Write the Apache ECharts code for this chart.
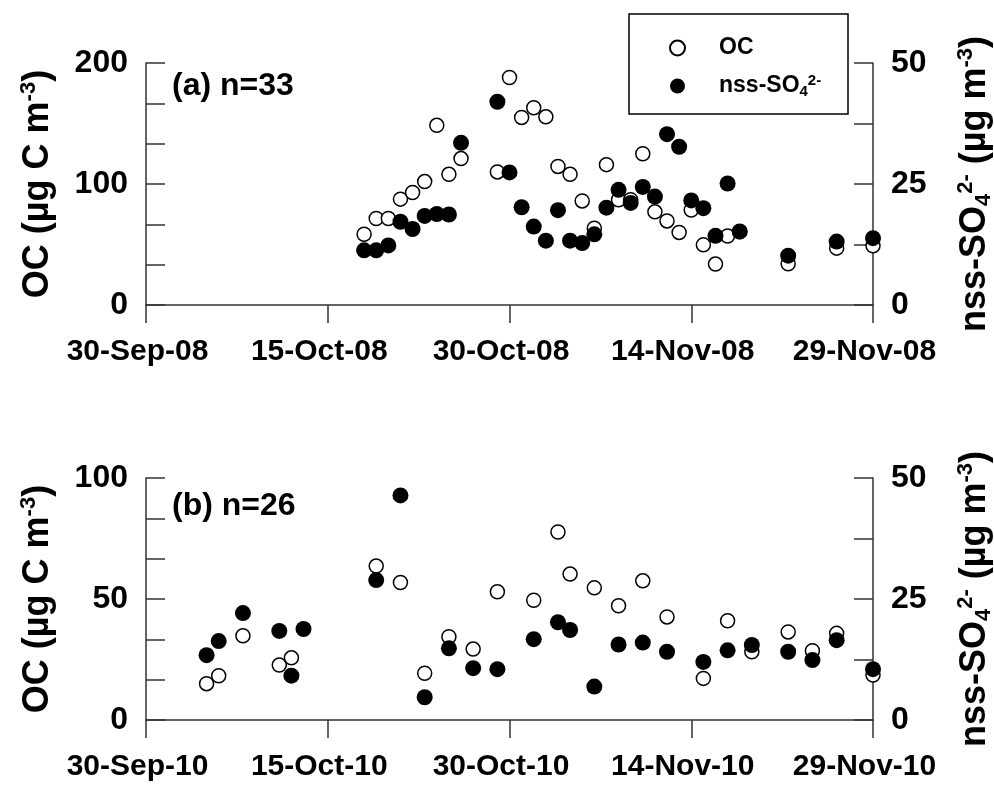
<!DOCTYPE html>
<html><head><meta charset="utf-8">
<script src="https://cdn.jsdelivr.net/npm/echarts@6/dist/echarts.min.js"></script>
<style>html,body{margin:0;padding:0;background:#fff}#c{width:994px;height:785px}</style>
</head><body><div id="c"></div><script>
const FONT = '"Liberation Sans", Arial, Helvetica, sans-serif';

// ---- Panel (a) 2008 ----
const startA = '2008-09-30';
const datesA = ['2008-10-18','2008-10-19','2008-10-20','2008-10-21','2008-10-22','2008-10-23','2008-10-24','2008-10-25','2008-10-26',
  '2008-10-29','2008-10-30','2008-10-31','2008-11-01','2008-11-02','2008-11-03','2008-11-04','2008-11-05','2008-11-06','2008-11-07',
  '2008-11-08','2008-11-09','2008-11-10','2008-11-11','2008-11-12','2008-11-13','2008-11-14','2008-11-15','2008-11-16','2008-11-17',
  '2008-11-18','2008-11-22','2008-11-26','2008-11-29'];
const ocA = [58.5,71.5,71.5,87.5,93,102,148.5,108,121,
  110,188,155,163,155.5,114.5,108,86,63.5,116,
  87,87,125,77,69.5,60,78.5,49.7,33.8,57,
  60.5,34,47,49];
const so4A = [11.3,11.3,12.3,17.2,15.7,18.4,18.8,18.7,33.5,
  42,27.4,20.2,16.2,13.3,19.6,13.3,12.8,14.6,20.1,
  23.8,21.1,24.4,22.4,35.3,32.7,21.6,20.0,14.3,25.1,
  15.2,10.2,13.1,13.8];
const xTicksA = ['30-Sep-08','15-Oct-08','30-Oct-08','14-Nov-08','29-Nov-08'];

// ---- Panel (b) 2010 ----
const startB = '2010-09-30';
const datesB = ['2010-10-05','2010-10-06','2010-10-08','2010-10-11','2010-10-12','2010-10-13','2010-10-19','2010-10-21','2010-10-23',
  '2010-10-25','2010-10-27','2010-10-29','2010-11-01','2010-11-03','2010-11-04','2010-11-06','2010-11-08','2010-11-10','2010-11-12',
  '2010-11-15','2010-11-17','2010-11-19','2010-11-22','2010-11-24','2010-11-26','2010-11-29'];
const ocB = [15,18.3,34.8,22.7,25.7,null,63.6,56.8,19.3,
  34.4,29.3,53,49.5,77.7,60.3,54.6,47.2,57.5,42.6,
  17.2,41,28.2,36.4,28.6,35.8,18.6];
const so4B = [13.4,16.3,22.1,18.4,9.15,18.8,28.9,46.4,4.7,
  14.8,10.7,10.5,16.7,20.2,18.6,6.9,15.6,16.0,14.1,
  12.0,14.4,15.5,14.1,12.4,16.5,10.5];
const xTicksB = ['30-Sep-10','15-Oct-10','30-Oct-10','14-Nov-10','29-Nov-10'];

const ocMaxA = 200, ocMaxB = 100, ocStepA = 100, ocStepB = 50;
const so4Max = 50, so4Step = 25;
const dayMax = 60, dayStep = 15;

function dayOffset(d, start) {
  return Math.round((Date.parse(d + 'T00:00:00Z') - Date.parse(start + 'T00:00:00Z')) / 86400000);
}
function pairs(dates, vals, start) {
  const out = [];
  dates.forEach((d, i) => { if (vals[i] != null) out.push([dayOffset(d, start), vals[i]]); });
  return out;
}

const lineCol = '#333';
const axLine = { show: true, onZero: false, lineStyle: { color: lineCol, width: 1.5 } };
const xLab = { fontSize: 30, fontWeight: 'bold', fontFamily: FONT, color: '#000' };
const yLab = { fontSize: 32, fontWeight: 'bold', fontFamily: FONT, color: '#000' };

function xAxis(grid, ticks) {
  return {
    type: 'value', gridIndex: grid, min: 0, max: dayMax, interval: dayStep,
    axisLine: axLine,
    axisTick: { show: true, inside: false, length: 18, lineStyle: { color: lineCol, width: 1.5 } },
    axisLabel: Object.assign({ margin: 32, padding: [0, 17, 0, 0], formatter: v => ticks[Math.round(v / dayStep)] || '' }, xLab),
    splitLine: { show: false }
  };
}
const nameStyle = {
  fontSize: 36, fontWeight: 'bold', fontFamily: FONT, color: '#000', lineHeight: 40,
  rich: {
    sup: { fontSize: 22, fontWeight: 'bold', fontFamily: FONT, color: '#000', lineHeight: 22, verticalAlign: 'top' },
    sub: { fontSize: 22, fontWeight: 'bold', fontFamily: FONT, color: '#000', lineHeight: 22, verticalAlign: 'bottom' }
  }
};
function yLeft(grid, max, step) {
  return {
    type: 'value', gridIndex: grid, position: 'left', min: 0, max: max, interval: step,
    axisLine: axLine,
    axisTick: { show: true, inside: true, length: 19, lineStyle: { color: lineCol, width: 1.5 } },
    minorTick: { show: true, splitNumber: 3, length: 19, lineStyle: { color: lineCol, width: 1.5 } },
    axisLabel: Object.assign({ margin: 18 }, yLab),
    splitLine: { show: false },
    name: 'OC (µg C m{sup|-3})', nameLocation: 'middle', nameRotate: 90, nameGap: 88,
    nameTextStyle: nameStyle
  };
}
function yRight(grid) {
  return {
    type: 'value', gridIndex: grid, position: 'right', min: 0, max: so4Max, interval: so4Step,
    axisLine: axLine,
    axisTick: { show: true, inside: true, length: 19, lineStyle: { color: lineCol, width: 1.5 } },
    minorTick: { show: true, splitNumber: 2, length: 19, lineStyle: { color: lineCol, width: 1.5 } },
    axisLabel: Object.assign({ margin: 18 }, yLab),
    splitLine: { show: false },
    name: 'nss-SO{sub|4}{sup|2-} (µg m{sup|-3})', nameLocation: 'middle', nameRotate: 90, nameGap: 82,
    nameTextStyle: nameStyle
  };
}
function ocSeries(xi, yi, data) {
  return { name: 'OC', type: 'scatter', xAxisIndex: xi, yAxisIndex: yi, data: data, symbol: 'circle', symbolSize: 14,
    itemStyle: { color: '#fff', borderColor: '#000', borderWidth: 1.5, opacity: 1 }, z: 2, emphasis: { disabled: true } };
}
function so4Series(xi, yi, data) {
  return { name: 'nss-SO4', type: 'scatter', xAxisIndex: xi, yAxisIndex: yi, data: data, symbol: 'circle', symbolSize: 16,
    itemStyle: { color: '#000', opacity: 1 }, z: 3, emphasis: { disabled: true } };
}

const chart = echarts.init(document.getElementById('c'), null, { renderer: 'canvas' });
chart.setOption({
  animation: false,
  backgroundColor: '#fff',
  grid: [
    { left: 146, top: 63, width: 727, height: 242, containLabel: false, outerBoundsMode: 'none' },
    { left: 146, top: 478, width: 727, height: 242, containLabel: false, outerBoundsMode: 'none' }
  ],
  xAxis: [xAxis(0, xTicksA), xAxis(1, xTicksB)],
  yAxis: [yLeft(0, ocMaxA, ocStepA), yRight(0), yLeft(1, ocMaxB, ocStepB), yRight(1)],
  legend: {
    data: ['OC', 'nss-SO4'], orient: 'vertical', left: 664, top: 30, itemWidth: 15, itemHeight: 15, itemGap: 12,
    icon: 'circle', selectedMode: false, z: 10,
    formatter: n => n === 'OC' ? 'OC' : 'nss-SO{sub|4}{sup|2-}',
    textStyle: {
      fontSize: 23, fontWeight: 'bold', fontFamily: FONT, color: '#000', lineHeight: 26, padding: [0, 0, 0, 29],
      rich: {
        sub: { fontSize: 15, fontWeight: 'bold', fontFamily: FONT, color: '#000', lineHeight: 14, verticalAlign: 'bottom' },
        sup: { fontSize: 15, fontWeight: 'bold', fontFamily: FONT, color: '#000', lineHeight: 14, verticalAlign: 'top' }
      }
    }
  },
  graphic: [
    { type: 'rect', z: 5, shape: { x: 629, y: 14, width: 219, height: 100 }, style: { fill: '#fff', stroke: '#000', lineWidth: 1.5 } },
    { type: 'text', z: 5, x: 172, y: 86, style: { text: '(a) n=33', fontSize: 32, fontWeight: 'bold', fontFamily: FONT, fill: '#000', verticalAlign: 'middle' } },
    { type: 'text', z: 5, x: 172, y: 506, style: { text: '(b) n=26', fontSize: 32, fontWeight: 'bold', fontFamily: FONT, fill: '#000', verticalAlign: 'middle' } }
  ],
  series: [
    ocSeries(0, 0, pairs(datesA, ocA, startA)),
    so4Series(0, 1, pairs(datesA, so4A, startA)),
    ocSeries(1, 2, pairs(datesB, ocB, startB)),
    so4Series(1, 3, pairs(datesB, so4B, startB))
  ]
});
</script></body></html>
